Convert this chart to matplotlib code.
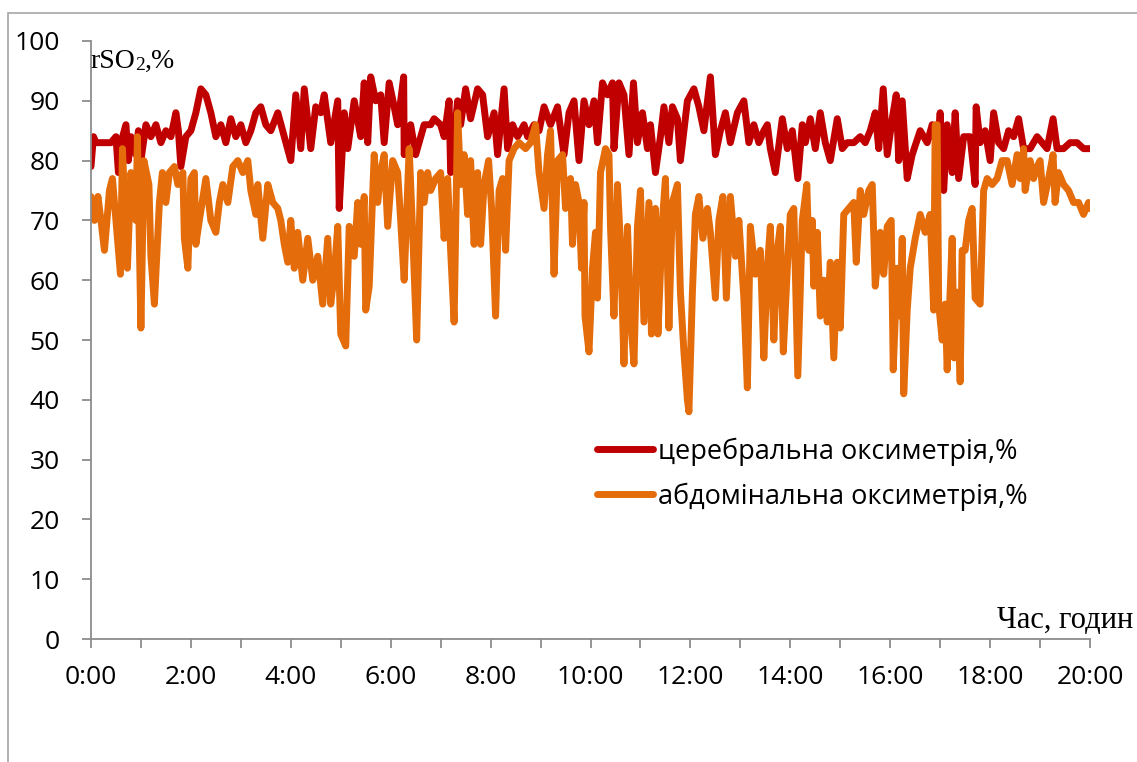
import matplotlib.pyplot as plt
from matplotlib.patches import Rectangle
from matplotlib.ticker import MultipleLocator, FuncFormatter

# cerebral oximetry (red) - hours, % rSO2
t_cer = [0.0, 0.05, 0.1, 0.2, 0.3, 0.4, 0.5, 0.55, 0.6, 0.7, 0.75, 0.8, 0.9, 0.95,
         1.0, 1.1, 1.2, 1.3, 1.4, 1.5, 1.6, 1.7, 1.75, 1.8, 1.9, 2.0, 2.1, 2.2, 2.3,
         2.4, 2.5, 2.6, 2.7, 2.8, 2.9, 3.0, 3.1, 3.2, 3.3, 3.4, 3.5, 3.6, 3.74, 3.87,
         4.0, 4.1, 4.2, 4.27, 4.4, 4.5, 4.6, 4.67, 4.8, 4.94, 4.97, 5.07, 5.14, 5.27,
         5.4, 5.47, 5.54, 5.6, 5.7, 5.8, 5.87, 5.97, 6.07, 6.14, 6.26, 6.27, 6.4, 6.5,
         6.67, 6.8, 6.87, 7.0, 7.07, 7.17, 7.2, 7.34, 7.4, 7.5, 7.6, 7.74, 7.84, 7.94,
         8.07, 8.14, 8.27, 8.34, 8.44, 8.54, 8.67, 8.74, 8.87, 8.97, 9.07, 9.2, 9.34,
         9.47, 9.57, 9.67, 9.77, 9.87, 9.97, 10.07, 10.14, 10.24, 10.34, 10.44, 10.47,
         10.57, 10.67, 10.77, 10.86, 10.94, 11.04, 11.14, 11.2, 11.3, 11.4, 11.47,
         11.57, 11.64, 11.74, 11.8, 11.94, 12.07, 12.17, 12.27, 12.4, 12.5, 12.6, 12.7,
         12.8, 12.94, 13.07, 13.17, 13.27, 13.37, 13.47, 13.54, 13.6, 13.7, 13.84,
         13.94, 14.04, 14.15, 14.24, 14.3, 14.4, 14.5, 14.6, 14.7, 14.8, 14.94, 15.04,
         15.14, 15.27, 15.4, 15.5, 15.6, 15.7, 15.77, 15.86, 15.94, 16.04, 16.12,
         16.17, 16.24, 16.34, 16.44, 16.6, 16.74, 16.84, 16.94, 17.0, 17.07, 17.14,
         17.24, 17.3, 17.37, 17.47, 17.6, 17.7, 17.72, 17.8, 17.9, 18.0, 18.07, 18.17,
         18.27, 18.37, 18.47, 18.57, 18.67, 18.8, 18.94, 19.04, 19.14, 19.26, 19.34,
         19.47, 19.6, 19.74, 19.87, 20.0]
cer = [79, 84, 83, 83, 83, 83, 84, 78, 83, 86, 80, 84, 81, 85,
       80, 86, 84, 86, 83, 85, 84, 88, 85, 79, 84, 85, 88, 92, 91,
       88, 84, 86, 83, 87, 84, 86, 83, 85, 88, 89, 86, 85, 88, 84,
       80, 91, 82, 92, 82, 89, 88, 91, 83, 90, 72, 88, 82, 90,
       84, 93, 83, 94, 90, 91, 83, 93, 89, 86, 94, 81, 86, 81,
       86, 86, 87, 86, 84, 90, 78, 90, 86, 92, 87, 92, 91, 84,
       88, 81, 92, 82, 86, 84, 86, 84, 86, 85, 89, 86, 89,
       81, 88, 90, 80, 90, 86, 90, 83, 93, 91, 93, 82,
       93, 91, 81, 93, 83, 88, 82, 86, 78, 84, 89,
       83, 89, 87, 80, 90, 92, 89, 85, 94, 81, 85, 88,
       83, 88, 90, 83, 86, 83, 85, 86, 82, 78, 87,
       82, 85, 77, 86, 83, 87, 82, 88, 83, 80, 87, 82,
       83, 83, 84, 83, 85, 88, 82, 92, 81, 87, 91,
       80, 90, 77, 81, 85, 83, 86, 82, 88, 75, 86,
       78, 88, 77, 84, 84, 76, 89, 83, 85, 80, 88, 83,
       82, 85, 84, 87, 82, 82, 84, 83, 82, 87, 82,
       82, 83, 83, 82, 82]

# abdominal oximetry (orange)
t_abd = [0.0, 0.07, 0.14, 0.2, 0.27, 0.37, 0.43, 0.5, 0.59, 0.63, 0.73, 0.8, 0.9,
         0.93, 1.0, 1.06, 1.16, 1.2, 1.27, 1.37, 1.43, 1.5, 1.57, 1.67, 1.74, 1.84,
         1.87, 1.94, 2.0, 2.07, 2.1, 2.17, 2.3, 2.4, 2.5, 2.57, 2.64, 2.74, 2.84,
         2.94, 3.04, 3.14, 3.2, 3.3, 3.34, 3.44, 3.54, 3.64, 3.74, 3.8, 3.87, 3.94,
         4.0, 4.07, 4.14, 4.24, 4.34, 4.44, 4.54, 4.64, 4.74, 4.8, 4.87, 4.94, 5.0,
         5.1, 5.17, 5.27, 5.34, 5.4, 5.47, 5.5, 5.57, 5.67, 5.74, 5.8, 5.87, 5.94,
         6.04, 6.14, 6.2, 6.27, 6.37, 6.44, 6.52, 6.6, 6.67, 6.74, 6.8, 6.9, 7.0,
         7.07, 7.14, 7.2, 7.27, 7.34, 7.4, 7.47, 7.54, 7.6, 7.67, 7.74, 7.8, 7.87,
         7.96, 8.02, 8.1, 8.17, 8.24, 8.3, 8.37, 8.47, 8.57, 8.7, 8.8, 8.9, 8.97,
         9.07, 9.14, 9.2, 9.27, 9.34, 9.44, 9.5, 9.6, 9.64, 9.7, 9.77, 9.82, 9.87,
         9.89, 9.97, 10.04, 10.1, 10.14, 10.2, 10.3, 10.37, 10.4, 10.47, 10.54, 10.6,
         10.67, 10.74, 10.8, 10.87, 10.94, 11.0, 11.07, 11.17, 11.22, 11.3, 11.35,
         11.44, 11.5, 11.57, 11.64, 11.74, 11.8, 11.87, 11.94, 11.97, 12.04, 12.1,
         12.17, 12.25, 12.34, 12.4, 12.5, 12.57, 12.65, 12.72, 12.8, 12.9, 12.97,
         13.07, 13.14, 13.2, 13.3, 13.4, 13.47, 13.54, 13.6, 13.67, 13.74, 13.8,
         13.86, 13.94, 14.0, 14.07, 14.15, 14.24, 14.33, 14.37, 14.44, 14.47, 14.54,
         14.6, 14.67, 14.74, 14.8, 14.87, 14.94, 15.0, 15.07, 15.17, 15.27, 15.32,
         15.4, 15.47, 15.57, 15.64, 15.7, 15.8, 15.87, 15.94, 16.02, 16.06, 16.14,
         16.2, 16.24, 16.27, 16.34, 16.4, 16.5, 16.6, 16.7, 16.8, 16.87, 16.9, 16.94,
         16.97, 17.04, 17.1, 17.14, 17.2, 17.24, 17.28, 17.34, 17.4, 17.44, 17.5,
         17.57, 17.64, 17.7, 17.8, 17.87, 17.94, 18.04, 18.14, 18.24, 18.34, 18.44,
         18.54, 18.6, 18.67, 18.7, 18.8, 18.87, 18.94, 19.0, 19.07, 19.17, 19.26,
         19.3, 19.37, 19.47, 19.57, 19.67, 19.77, 19.87, 19.97, 20.0]
abd = [74, 70, 74, 70, 65, 75, 77, 70, 61, 82, 62, 78, 70,
       84, 52, 80, 76, 64, 56, 73, 78, 73, 78, 79, 76, 78,
       67, 62, 77, 78, 66, 70, 77, 70, 68, 73, 76, 73, 79,
       80, 78, 80, 75, 71, 76, 67, 76, 73, 72, 70, 66, 63,
       70, 62, 68, 60, 67, 60, 64, 56, 67, 56, 61, 69, 51,
       49, 69, 64, 73, 66, 74, 55, 59, 81, 73, 78, 81, 69,
       80, 78, 70, 60, 82, 68, 50, 78, 73, 78, 75, 77, 78,
       67, 77, 65, 53, 88, 76, 81, 71, 80, 66, 78, 66, 76,
       80, 72, 54, 75, 77, 65, 80, 82, 83, 82, 83, 86, 78,
       72, 81, 85, 61, 80, 81, 72, 77, 66, 76, 73, 62, 73,
       54, 48, 62, 68, 57, 78, 82, 81, 69, 54, 76, 66,
       46, 69, 54, 46, 69, 75, 53, 73, 51, 72, 51,
       70, 77, 52, 73, 76, 58, 48, 40, 38, 58, 71,
       74, 67, 72, 68, 57, 70, 74, 57, 74, 64, 70,
       57, 42, 69, 61, 65, 47, 62, 69, 50, 65, 69,
       48, 62, 71, 72, 44, 70, 76, 65, 70, 59, 68,
       54, 60, 53, 63, 47, 63, 52, 71, 72, 73, 63,
       75, 71, 75, 76, 59, 68, 61, 69, 70, 45, 62,
       54, 67, 41, 55, 62, 67, 71, 68, 71, 55, 86, 86,
       56, 50, 56, 45, 58, 67, 47, 58, 43, 65, 65,
       70, 72, 57, 56, 75, 77, 76, 77, 80, 80, 76,
       81, 77, 82, 75, 80, 77, 79, 80, 73, 77, 81,
       73, 78, 76, 75, 73, 73, 71, 73, 72]

hour_labels = [f"{h}:00" for h in range(0, 21)]

plt.rcParams["font.family"] = ["Open Sans", "DejaVu Sans"]

fig = plt.figure(figsize=(11.37, 7.62), dpi=100)
ax = fig.add_axes([0.080, 0.1614, 0.8787, 0.7848])

ax.plot(t_cer, cer, color="#C00000", linewidth=5, solid_joinstyle="round",
        solid_capstyle="round", label="церебральна оксиметрія,%")
ax.plot(t_abd, abd, color="#E46C0A", linewidth=5, solid_joinstyle="round",
        solid_capstyle="round", label="абдомінальна оксиметрія,%")

ax.set_xlim(0, 20)
ax.set_ylim(0, 100)
ax.xaxis.set_major_locator(MultipleLocator(1))
ax.yaxis.set_major_locator(MultipleLocator(10))
ax.xaxis.set_major_formatter(
    FuncFormatter(lambda v, p: hour_labels[int(round(v))] if int(round(v)) % 2 == 0 else ""))

for s in ["top", "right"]:
    ax.spines[s].set_visible(False)
for s in ["left", "bottom"]:
    ax.spines[s].set_color("#8C8C8C")
    ax.spines[s].set_linewidth(1.3)
ax.tick_params(axis="both", colors="#8C8C8C", length=6.5, width=1.3,
               labelsize=19, labelcolor="black")
ax.tick_params(axis="y", pad=16)
ax.tick_params(axis="x", pad=12)

# axis captions in serif
serif = "Liberation Serif"
t1 = ax.text(0.0, 95.5, "rSO", fontsize=20, family=serif, va="baseline", ha="left")
fig.canvas.draw()
r = fig.canvas.get_renderer()
bb = t1.get_window_extent(r)
t2 = ax.annotate("2", xy=(bb.x1 - 1, bb.y0), xycoords="figure pixels", fontsize=14,
                 family=serif, va="bottom", ha="left", annotation_clip=False)
fig.canvas.draw()
bb2 = t2.get_window_extent(r)
ax.annotate(",%", xy=(bb2.x1, bb.y0), xycoords="figure pixels", fontsize=20,
            family=serif, va="bottom", ha="left", annotation_clip=False)

ax.text(18.14, 1.8, "Час, годин", fontsize=22, family=serif, va="baseline",
        ha="left", clip_on=False)

ax.legend(loc="upper left", bbox_to_anchor=(0.507, 0.337), frameon=False,
          fontsize=19.5, handlelength=2.05, handletextpad=0.2, labelspacing=0.62,
          borderpad=0, borderaxespad=0)

# light frame of the chart area
fig.patches.append(Rectangle((8 / 1137, -0.5), 1.5, 1.5 - 13 / 762,
                             transform=fig.transFigure, fill=False,
                             edgecolor="#A6A6A6", linewidth=1.2))

fig.savefig("out.png", dpi=100)
